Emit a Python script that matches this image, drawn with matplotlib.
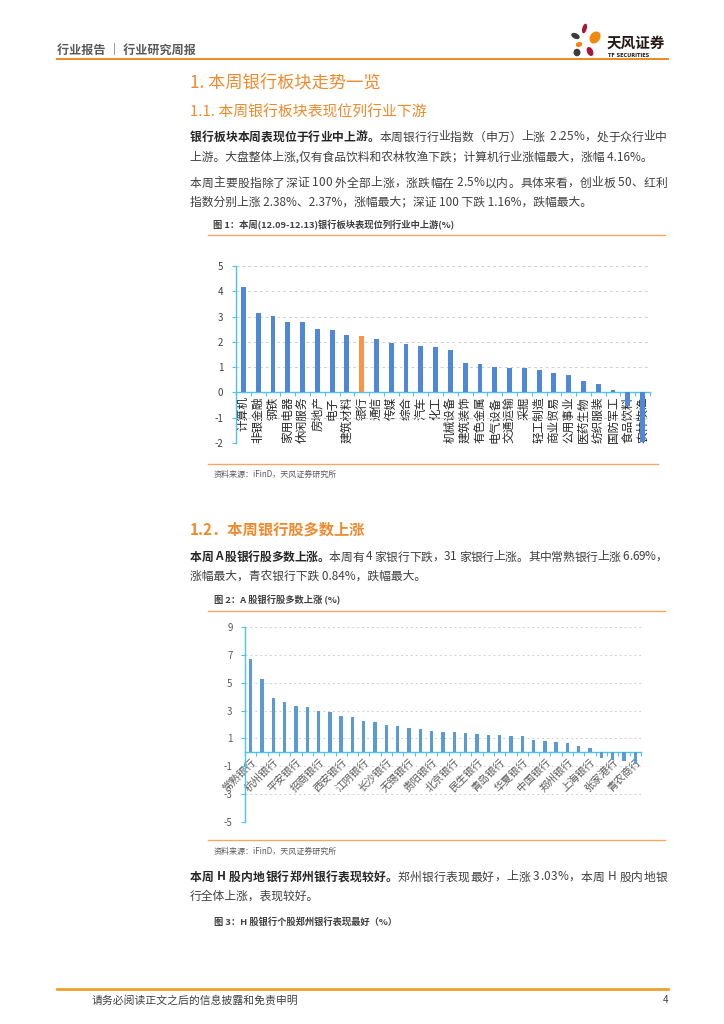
import matplotlib
matplotlib.use("Agg")
import matplotlib.pyplot as plt
from matplotlib.patches import Ellipse
from matplotlib.ticker import FixedLocator

FAM = ['Noto Sans CJK SC', 'DejaVu Sans']
plt.rcParams['font.family'] = FAM

W, H = 724, 1024
ORANGE = '#F08A2C'
LINE_OR = '#F4A862'
AXC = '#4FC3F0'
GRID = '#D0D0D0'

# ---------------- data ----------------
ind_names = ['计算机', '非银金融', '钢铁', '家用电器', '休闲服务', '房地产', '电子', '建筑材料',
             '银行', '通信', '传媒', '综合', '汽车', '化工', '机械设备', '建筑装饰', '有色金属',
             '电气设备', '交通运输', '采掘', '轻工制造', '商业贸易', '公用事业', '医药生物',
             '纺织服装', '国防军工', '食品饮料', '农林牧渔']
ind_values = [4.16, 3.16, 3.03, 2.80, 2.78, 2.51, 2.46, 2.26, 2.25, 2.10, 1.97, 1.93, 1.84,
              1.78, 1.66, 1.18, 1.12, 1.01, 0.96, 0.95, 0.87, 0.77, 0.70, 0.45, 0.33, 0.09,
              -0.55, -1.98]
ind_yticks = [5, 4, 3, 2, 1, 0, -1, -2]

bank_names = ['常熟银行', '宁波银行', '杭州银行', '南京银行', '平安银行', '兴业银行', '招商银行',
              '浦发银行', '西安银行', '苏州银行', '江阴银行', '成都银行', '长沙银行', '江苏银行',
              '无锡银行', '光大银行', '贵阳银行', '中信银行', '北京银行', '工商银行', '民生银行',
              '建设银行', '青岛银行', '交通银行', '华夏银行', '农业银行', '中国银行', '邮储银行',
              '郑州银行', '苏农银行', '上海银行', '紫金银行', '张家港行', '渝农商行', '青农商行']
bank_values = [6.69, 5.24, 3.88, 3.59, 3.30, 3.23, 2.99, 2.87, 2.63, 2.51, 2.25, 2.15, 1.94,
               1.87, 1.72, 1.67, 1.51, 1.46, 1.44, 1.36, 1.29, 1.27, 1.22, 1.20, 1.20, 0.86,
               0.79, 0.77, 0.65, 0.43, 0.33, -0.38, -0.55, -0.60, -0.84]
bank_yticks = [9, 7, 5, 3, 1, -1, -3, -5]

fig = plt.figure(figsize=(W / 100, H / 100), dpi=100)
fig.patch.set_facecolor('white')
R = fig.canvas.get_renderer()


def fx(x):
    return x / W


def fy(y):
    return 1 - y / H


def hline(y, x0, x1, color=LINE_OR, lw=1.0):
    fig.add_artist(plt.Line2D([fx(x0), fx(x1)], [fy(y), fy(y)], color=color, lw=lw,
                              transform=fig.transFigure))


def runs(x, y, parts, size=8.5, right=None):
    """Draw text runs (text, bold); if right is given, justify to that pixel edge."""
    if right is None:
        for txt, bold in parts:
            t = fig.text(fx(x), fy(y), txt, fontsize=size,
                         weight='bold' if bold else 'normal',
                         color='#262626' if bold else '#404040', va='center', ha='left')
            x = t.get_window_extent(renderer=R).x1
        return
    items = []
    for txt, bold in parts:
        for ch in txt:
            t = fig.text(0, fy(y), ch, fontsize=size,
                         weight='bold' if bold else 'normal',
                         color='#262626' if bold else '#404040', va='center', ha='left')
            w = t.get_window_extent(renderer=R).width if ch.strip() else size * 0.3
            items.append((t, w))
    total = sum(w for _, w in items)
    extra = (right - x - total) / max(len(items) - 1, 1)
    for t, w in items:
        t.set_x(fx(x))
        x += w + extra


def style_axes(ax):
    for s in ['top', 'right']:
        ax.spines[s].set_visible(False)
    ax.spines['bottom'].set_position(('data', 0))
    for s in ['bottom', 'left']:
        ax.spines[s].set_color(AXC)
        ax.spines[s].set_linewidth(1.0)
    ax.patch.set_alpha(0)


# ---------------- header ----------------
fig.text(fx(57), fy(50), '行业报告 ｜ 行业研究周报', fontsize=8.7, weight='bold', color='#595959',
         va='center', ha='left')
hline(59, 57, 668, color='#EE8A1E', lw=1.4)

# logo
axl = fig.add_axes([fx(566), fy(60), 40 / W, 40 / H])
axl.set_xlim(566, 606)
axl.set_ylim(60, 20)
axl.axis('off')
petals = [((584.5, 28.5), 4.5, 10, 15, '#A8173A'),
          ((575.5, 36), 9, 5.5, 25, '#3C3C3C'),
          ((595, 37.5), 10, 13, 35, '#EF8A10'),
          ((579, 44.5), 6.5, 5, -20, '#EF8A10'),
          ((577, 52.5), 7, 7.5, 0, '#3C3C3C'),
          ((590, 51.5), 6, 9.5, -25, '#A8173A')]
for (cx, cy), w, h, ang, c in petals:
    axl.add_patch(Ellipse((cx, cy), w, h, angle=ang, color=c, lw=0))
fig.text(fx(607), fy(43), '天风证券', fontsize=10.5, weight='bold', color='#231815',
         va='center', ha='left')
fig.text(fx(608), fy(55.5), 'TF SECURITIES', fontsize=3.6, weight='bold', color='#231815',
         va='center', ha='left', family=['DejaVu Sans'])

# ---------------- section 1 ----------------
fig.text(fx(190), fy(82), '1. 本周银行板块走势一览', fontsize=12.4, color=ORANGE, va='center',
         ha='left', weight='medium')
fig.text(fx(190), fy(112), '1.1. 本周银行板块表现位列行业下游', fontsize=10.7, color=ORANGE,
         va='center', ha='left', weight='medium')
runs(190, 137, [('银行板块本周表现位于行业中上游。', True),
                ('本周银行行业指数（申万）上涨  2.25%，处于众行业中', False)], right=667)
runs(190, 157, [('上游。大盘整体上涨,仅有食品饮料和农林牧渔下跌；计算机行业涨幅最大，涨幅 4.16%。', False)])
runs(190, 183, [('本周主要股指除了深证 100 外全部上涨，涨跌幅在 2.5%以内。具体来看，创业板 50、红利', False)],
     right=667)
runs(190, 202, [('指数分别上涨 2.38%、2.37%，涨幅最大；深证 100 下跌 1.16%，跌幅最大。', False)])

fig.text(fx(213), fy(225), '图 1：本周(12.09-12.13)银行板块表现位列行业中上游(%)', fontsize=6.7,
         weight='bold', color='#404040', va='center', ha='left')
hline(235, 208, 665)

# chart 1
ax1 = fig.add_axes([fx(236), fy(443), (650 - 236) / W, (443 - 266) / H])
style_axes(ax1)
n1 = len(ind_names)
xs1 = list(range(n1))
cols1 = ['#F79646' if nm == '银行' else '#4F88D6' for nm in ind_names]
ax1.yaxis.grid(True, linestyle=(0, (3, 3)), color=GRID, lw=0.7, zorder=0)
ax1.set_axisbelow(True)
ax1.bar(xs1, ind_values, width=0.33, color=cols1, zorder=3)
ax1.set_xlim(-0.5, n1 - 0.5)
ax1.set_ylim(min(ind_yticks), max(ind_yticks))
ax1.set_yticks(ind_yticks)
ax1.set_yticklabels([str(v) for v in ind_yticks], fontsize=7, color='#404040')
ax1.set_xticks(xs1)
ax1.set_xticklabels(ind_names, rotation=90, fontsize=8.4, color='#262626', va='top', ha='center')
ax1.xaxis.set_minor_locator(FixedLocator([i + 0.5 for i in range(-1, n1)]))
ax1.tick_params(axis='x', which='major', length=0, pad=3)
ax1.tick_params(axis='x', which='minor', length=3, color=AXC, width=0.8, direction='out')
ax1.tick_params(axis='y', length=3, color=AXC, width=0.8, pad=6)

hline(464, 208, 658)
fig.text(fx(214), fy(474), '资料来源：iFinD，天风证券研究所', fontsize=5.8, color='#595959',
         va='center', ha='left')

# ---------------- section 1.2 ----------------
fig.text(fx(190), fy(530), '1.2．本周银行股多数上涨', fontsize=11, color=ORANGE, va='center',
         ha='left', weight='bold')
runs(190, 557, [('本周 A 股银行股多数上涨。', True),
                ('本周有 4 家银行下跌，31 家银行上涨。其中常熟银行上涨 6.69%，', False)], right=667)
runs(190, 576, [('涨幅最大，青农银行下跌 0.84%，跌幅最大。', False)])
fig.text(fx(214), fy(600), '图 2：A 股银行股多数上涨 (%)', fontsize=6.7, weight='bold',
         color='#404040', va='center', ha='left')
hline(611, 208, 665)

# chart 2
ax2 = fig.add_axes([fx(245), fy(822), (641 - 245) / W, (822 - 627) / H])
style_axes(ax2)
n2 = len(bank_names)
xs2 = list(range(n2))
ax2.yaxis.grid(True, linestyle=(0, (2, 3)), color=GRID, lw=0.7, zorder=0)
ax2.set_axisbelow(True)
ax2.bar(xs2, bank_values, width=0.3, color='#5B9BD5', zorder=3)
ax2.set_xlim(-0.5, n2 - 0.5)
ax2.set_ylim(min(bank_yticks), max(bank_yticks))
ax2.set_yticks(bank_yticks)
ax2.set_yticklabels([str(v) for v in bank_yticks], fontsize=7, color='#595959')
ax2.set_xticks(xs2)
ax2.set_xticklabels([nm if i % 2 == 0 else '' for i, nm in enumerate(bank_names)],
                    rotation=45, ha='right', va='top', rotation_mode='anchor',
                    fontsize=7.6, color='#595959')
ax2.xaxis.set_minor_locator(FixedLocator([i + 0.5 for i in range(-1, n2)]))
ax2.tick_params(axis='x', which='major', length=0, pad=3)
ax2.tick_params(axis='x', which='minor', length=3, color=AXC, width=0.8, direction='out')
ax2.tick_params(axis='y', length=3, color=AXC, width=0.8, pad=6)

hline(840, 208, 665)
fig.text(fx(214), fy(851), '资料来源：iFinD，天风证券研究所', fontsize=5.8, color='#595959',
         va='center', ha='left')

runs(190, 877, [('本周 H 股内地银行郑州银行表现较好。', True),
                ('郑州银行表现最好，上涨 3.03%，本周 H 股内地银', False)], right=667)
runs(190, 896, [('行全体上涨，表现较好。', False)])
fig.text(fx(214), fy(922), '图 3：H 股银行个股郑州银行表现最好（%）', fontsize=6.7, weight='bold',
         color='#404040', va='center', ha='left')

# ---------------- footer ----------------
hline(989, 57, 668, color='#F0A030', lw=2.0)
fig.text(fx(92), fy(1000), '请务必阅读正文之后的信息披露和免责申明', fontsize=7.8, color='#404040',
         va='center', ha='left')
fig.text(fx(668), fy(1000), '4', fontsize=7.2, color='#404040', va='center', ha='right')

fig.savefig('out.png', dpi=100, facecolor='white')
